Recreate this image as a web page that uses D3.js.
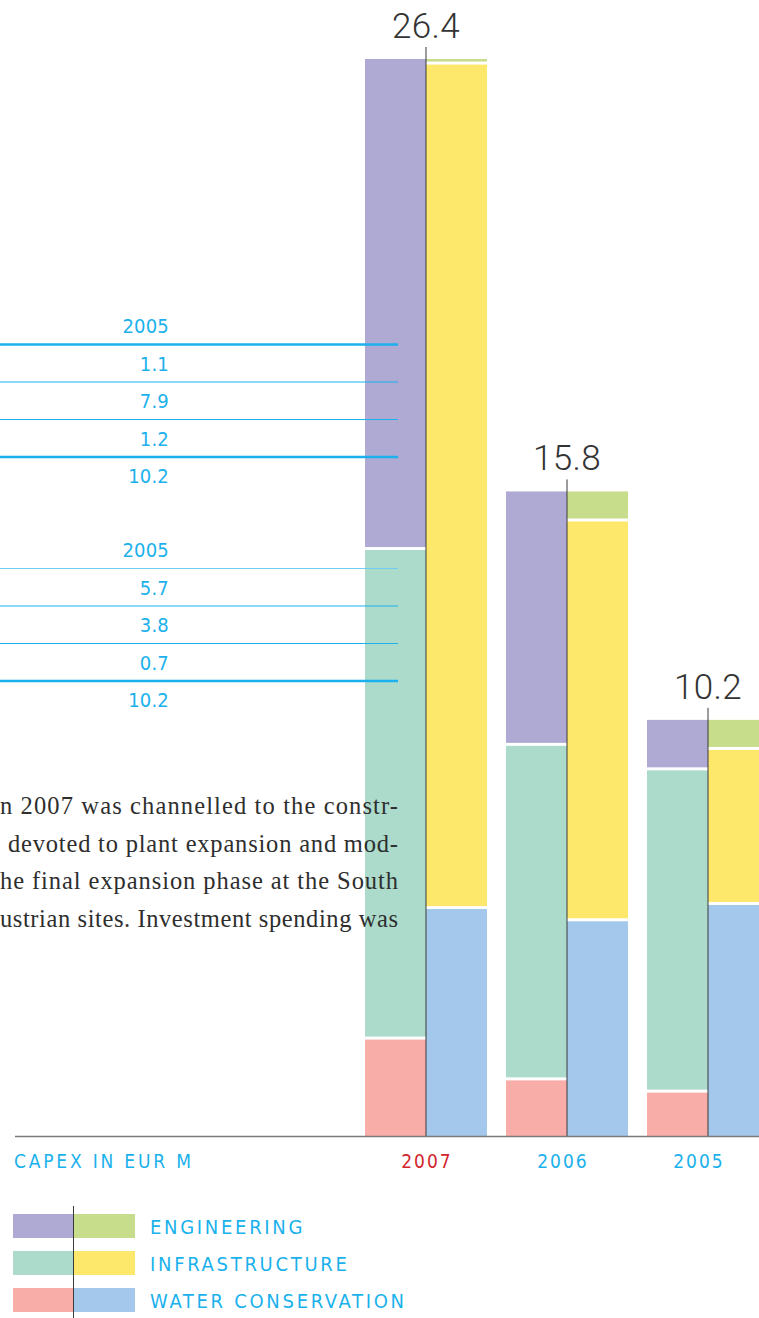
<!DOCTYPE html>
<html><head><meta charset="utf-8">
<script src="https://cdn.jsdelivr.net/npm/d3@7"></script>
<style>
html,body{margin:0;padding:0;background:#fff;overflow:hidden;}
svg{display:block;}
</style></head>
<body>
<svg id="chart" width="759" height="1318"></svg>
<script>
// ---- data ----
const years = ["2007", "2006", "2005"];
const totals = [26.4, 15.8, 10.2];
// left half, bottom to top
const leftPink = [2.4, 1.4, 1.1];
const leftMint = [12.0, 8.2, 7.9];
const leftPurple = [12.0, 6.2, 1.2];
// right half, bottom to top
const rightBlue = [5.6, 5.3, 5.7];
const rightYellow = [20.7, 9.8, 3.8];
const rightLime = [0.1, 0.7, 0.7];

const table1Header = "2005";
const table1Values = ["1.1", "7.9", "1.2"];
const table1Total = "10.2";
const table2Header = "2005";
const table2Values = ["5.7", "3.8", "0.7"];
const table2Total = "10.2";

const paragraphLines = [
  "n 2007 was channelled to the constr-",
  "devoted to plant expansion and mod-",
  "he final expansion phase at the South",
  "ustrian sites. Investment spending was"
];
const axisTitle = "CAPEX IN EUR M";
const legendLabels = ["ENGINEERING", "INFRASTRUCTURE", "WATER CONSERVATION"];

// ---- styles ----
const C = {
  purple: "#afaad3", mint: "#acdbcb", pink: "#f8ada8",
  lime: "#c7dd8b", yellow: "#fee86c", blue: "#a3c8eb",
  cyan: "#1ab1ec", red: "#d3252e", dark: "#2e2e2e"
};
const svg = d3.select("#chart");
const sans = "'DejaVu Sans Condensed', Roboto, sans-serif";

const y = d3.scaleLinear().domain([0, 26.4]).range([1136, 59]);
const x = d3.scaleBand().domain(years).range([365, 769]).paddingInner(0.1348).paddingOuter(0).align(0);
const half = x.bandwidth() / 2;
const GAP = 1.5;

// ---- bars ----
function stackSeries(seriesList, colors, offset) {
  years.forEach((yr, i) => {
    let cum = 0;
    seriesList.forEach((s, k) => {
      const v0 = cum, v1 = cum + s[i];
      cum = v1;
      const isBottom = k === 0, isTop = k === seriesList.length - 1;
      const top = y(v1) + (isTop ? 0 : GAP);
      const bot = y(v0) - (isBottom ? 0 : GAP);
      svg.append("rect")
        .attr("x", x(yr) + offset)
        .attr("y", top)
        .attr("width", half)
        .attr("height", Math.max(0.5, bot - top))
        .attr("fill", colors[k]);
    });
  });
}
stackSeries([leftPink, leftMint, leftPurple], [C.pink, C.mint, C.purple], 0);
stackSeries([rightBlue, rightYellow, rightLime], [C.blue, C.yellow, C.lime], half);

// ---- table lines (over bars) ----
function drawTable(top, header, values, total, firstThick) {
  const pitch = 37.5;
  const tx = 169;
  const g = svg.append("g");
  g.append("text").attr("x", tx).attr("y", top).text(header);
  values.forEach((v, i) => {
    g.append("text").attr("x", tx).attr("y", top + pitch * (i + 1)).text(v);
  });
  g.append("text").attr("x", tx).attr("y", top + pitch * 4).text(total);
  g.selectAll("text").attr("text-anchor", "end").attr("fill", C.cyan)
    .attr("font-family", sans).attr("font-size", 20).attr("letter-spacing", 0.2);
  for (let i = 0; i < 4; i++) {
    const ly = top + 11.5 + pitch * i;
    const thick = (i === 0 && firstThick) || i === 3;
    g.append("line").attr("x1", 0).attr("x2", 398).attr("y1", ly).attr("y2", ly)
      .attr("stroke", (i === 0 && !firstThick) ? "#6fcdf2" : C.cyan)
      .attr("stroke-width", thick ? 2.5 : 1);
  }
}
drawTable(333, table1Header, table1Values, table1Total, true);
drawTable(557, table2Header, table2Values, table2Total, false);

// ---- paragraph ----
const paraStarts = [0, 8, 0, 0];
paragraphLines.forEach((t, i) => {
  svg.append("text")
    .attr("x", paraStarts[i]).attr("y", 814 + 37.5 * i)
    .attr("textLength", 398 - paraStarts[i])
    .attr("lengthAdjust", "spacing")
    .attr("font-family", "'Liberation Serif', 'Times New Roman', serif")
    .attr("font-size", 24.5)
    .attr("fill", C.dark)
    .text(t);
});

// ---- dividers ----
years.forEach((yr, i) => {
  svg.append("line")
    .attr("x1", x(yr) + half).attr("x2", x(yr) + half)
    .attr("y1", y(totals[i]) - 12).attr("y2", y(0))
    .attr("stroke", "#3a3a3a").attr("stroke-width", 1);
  svg.append("text")
    .attr("x", x(yr) + half).attr("y", y(totals[i]) - 21)
    .attr("text-anchor", "middle")
    .attr("font-family", "Roboto, sans-serif").attr("font-weight", 300)
    .attr("font-size", 35).attr("letter-spacing", 0.3)
    .attr("fill", "#333")
    .text(totals[i].toFixed(1));
});

// ---- baseline ----
svg.append("line").attr("x1", 15).attr("x2", 759).attr("y1", y(0) + 0.5).attr("y2", y(0) + 0.5)
  .attr("stroke", "#7a7a7a").attr("stroke-width", 1.5);

// ---- x axis labels ----
const labelX = d3.scalePoint().domain(years).range([427, 699]);
years.forEach((yr, i) => {
  svg.append("text")
    .attr("x", labelX(yr)).attr("y", 1168)
    .attr("text-anchor", "middle")
    .attr("font-family", sans).attr("font-size", 19).attr("letter-spacing", 2)
    .attr("fill", i === 0 ? C.red : C.cyan)
    .text(yr);
});
svg.append("text").attr("x", 14).attr("y", 1168)
  .attr("font-family", sans).attr("font-size", 19).attr("letter-spacing", 2.8)
  .attr("fill", C.cyan).text(axisTitle);

// ---- legend ----
const legLeft = [C.purple, C.mint, C.pink];
const legRight = [C.lime, C.yellow, C.blue];
legendLabels.forEach((lab, i) => {
  const ly = 1214 + 37 * i;
  svg.append("rect").attr("x", 13).attr("y", ly).attr("width", 60).attr("height", 24).attr("fill", legLeft[i]);
  svg.append("rect").attr("x", 73).attr("y", ly).attr("width", 62).attr("height", 24).attr("fill", legRight[i]);
  svg.append("text").attr("x", 150).attr("y", ly + 19.5)
    .attr("font-family", sans).attr("font-size", 20).attr("letter-spacing", 2.7)
    .attr("fill", C.cyan).text(lab);
});
svg.append("line").attr("x1", 73.5).attr("x2", 73.5).attr("y1", 1206).attr("y2", 1318)
  .attr("stroke", "#3a3a3a").attr("stroke-width", 1);
</script>
</body></html>
